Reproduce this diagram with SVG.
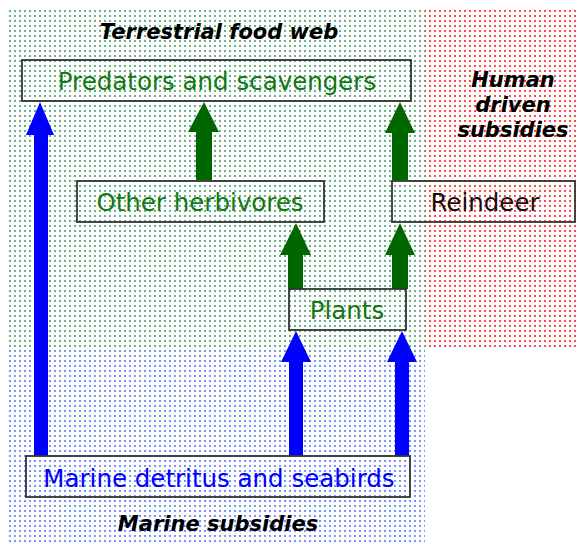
<svg xmlns="http://www.w3.org/2000/svg" width="579" height="544" viewBox="0 0 579 544">
  <style>
    .box { fill: none; stroke: #333333; stroke-width: 1.8; }
    .lbl { font-family: "DejaVu Sans", Verdana, sans-serif; font-size: 24.5px; text-anchor: middle; }
    .title { font-family: "DejaVu Sans", Verdana, sans-serif; font-size: 21px; font-weight: bold; font-style: italic; text-anchor: middle; fill: #000000; }
    .green { fill: #137a13; }
    .blue { fill: #0000ff; }
    .black { fill: #111111; }
    .arrow-g { fill: #006600; }
    .arrow-b { fill: #0000ff; }
  </style>
  <defs>
    <pattern id="dotsGreen" width="5" height="5" patternUnits="userSpaceOnUse" x="9" y="10">
      <rect x="0" y="0" width="2" height="2" fill="#6aae8a"/>
    </pattern>
    <pattern id="dotsRed" width="5" height="5" patternUnits="userSpaceOnUse" x="9" y="10">
      <rect x="0" y="0" width="2" height="2" fill="#ff4a4a"/>
    </pattern>
    <pattern id="dotsBlue" width="5" height="5" patternUnits="userSpaceOnUse" x="9" y="10">
      <rect x="0" y="0" width="2" height="2" fill="#7894ff"/>
    </pattern>
  </defs>

  <rect width="579" height="544" fill="#ffffff"/>

  <!-- shaded zones -->
  <g id="zones">
    <rect x="9" y="10" width="416" height="341" fill="url(#dotsGreen)"/>
    <rect x="425" y="10" width="154" height="340" fill="url(#dotsRed)"/>
    <rect x="9" y="351" width="416" height="193" fill="url(#dotsBlue)"/>
  </g>

  <!-- zone headings -->
  <text class="title" x="219" y="39">Terrestrial food web</text>
  <text class="title" x="218" y="531">Marine subsidies</text>
  <text class="title" x="513" y="87">Human</text>
  <text class="title" x="513" y="112">driven</text>
  <text class="title" x="513" y="137">subsidies</text>

  <!-- connectors -->
  <g id="connectors">
    <!-- marine -> predators -->
    <polygon class="arrow-b" points="34,456 34,135 26,135 40,102 54,135 48,135 48,456"/>
    <!-- marine -> plants -->
    <polygon class="arrow-b" points="289,456 289,362 281,362 296,331 311,362 303,362 303,456"/>
    <polygon class="arrow-b" points="395,456 395,362 387,362 402,331 417,362 409,362 409,456"/>
    <!-- plants -> other herbivores / reindeer -->
    <polygon class="arrow-g" points="288,289 288,255 280,255 296,223 311,255 303,255 303,289"/>
    <polygon class="arrow-g" points="392,289 392,255 385,255 400,223 415,255 408,255 408,289"/>
    <!-- herbivores -> predators -->
    <polygon class="arrow-g" points="196,180 196,132 188,132 204,102 219,132 212,132 212,180"/>
    <polygon class="arrow-g" points="392,180 392,133 385,133 400,102 415,133 408,133 408,180"/>
  </g>

  <!-- nodes -->
  <g id="predators">
    <rect class="box" x="22" y="60" width="389" height="41"/>
    <text class="lbl green" x="217" y="90">Predators and scavengers</text>
  </g>
  <g id="other-herbivores">
    <rect class="box" x="77" y="181" width="247" height="41"/>
    <text class="lbl green" x="200" y="211">Other herbivores</text>
  </g>
  <g id="reindeer">
    <rect class="box" x="392" y="181" width="183" height="41"/>
    <text class="lbl black" x="485" y="211">Reindeer</text>
  </g>
  <g id="plants">
    <rect class="box" x="289" y="289" width="117" height="41"/>
    <text class="lbl green" x="347" y="319">Plants</text>
  </g>
  <g id="marine">
    <rect class="box" x="26" y="456" width="384" height="41"/>
    <text class="lbl blue" x="219" y="487">Marine detritus and seabirds</text>
  </g>
</svg>
